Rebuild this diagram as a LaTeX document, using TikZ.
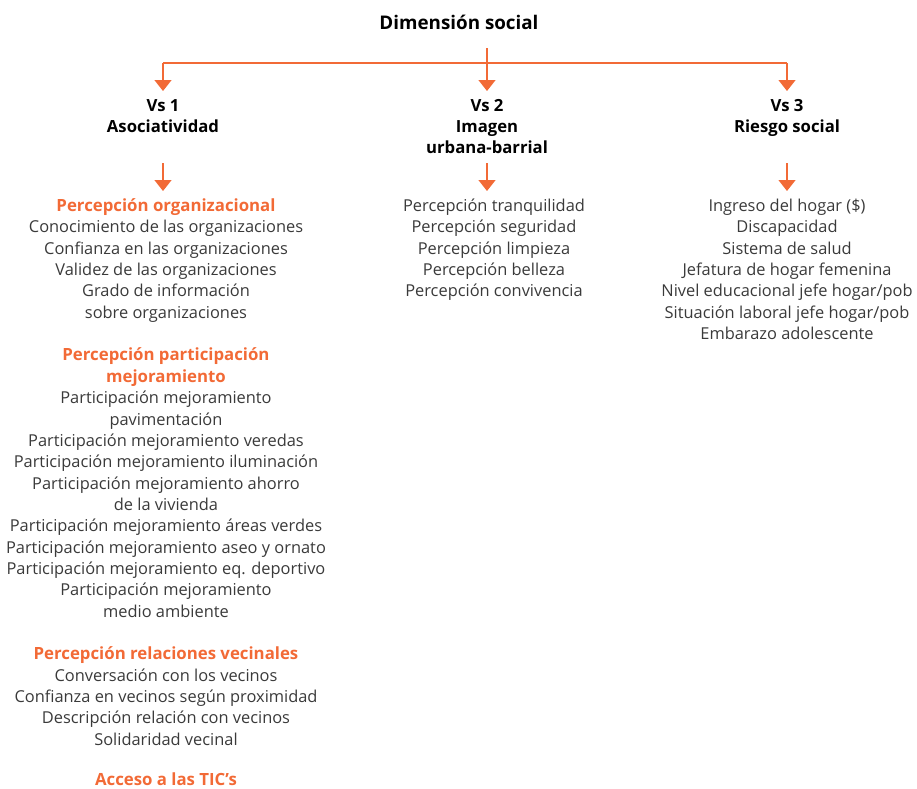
\documentclass[tikz,border=0pt]{standalone}
\usepackage{fontspec}
\setmainfont{Open Sans}
\usetikzlibrary{arrows.meta}
\definecolor{orng}{HTML}{F26A36}
\definecolor{txt}{HTML}{3A3A3A}
\begin{document}
\begin{tikzpicture}[x=1pt,y=-1pt,
  body/.style={anchor=base,inner sep=0pt,text=txt,font=\fontsize{16.4}{18}\selectfont},
  head/.style={anchor=base,inner sep=0pt,text=black,font=\bfseries\fontsize{16.7}{18}\selectfont},
  ohead/.style={anchor=base,inner sep=0pt,text=orng,font=\bfseries\fontsize{16.8}{18}\selectfont},
  conn/.style={draw=orng,line width=1.3pt},
  arr/.style={conn,-{Triangle[width=17pt,length=11pt]}}]
\useasboundingbox (0,0) rectangle (917,788);
% title
\node[head,font=\bfseries\fontsize{18.8}{20}\selectfont] (title) at (459,29) {Dimensión social};
\coordinate (tb) at (487,48);
\coordinate (hm) at (487,63);
\coordinate (hl) at (163,63);
\coordinate (hr) at (787,63);
% Vs labels
\node[head] (v1a) at (163,111) {Vs 1};
\node[head] (v1b) at (163,132.3) {Asociatividad};
\node[head] (v2a) at (487,111) {Vs 2};
\node[head] (v2b) at (487,132.3) {Imagen};
\node[head] (v2c) at (487,153.6) {urbana-barrial};
\node[head] (v3a) at (787,111) {Vs 3};
\node[head] (v3b) at (787,132.3) {Riesgo social};
\coordinate (t1) at (163,91);
\coordinate (t2) at (487,91);
\coordinate (t3) at (787,91);
\draw[conn] (hl) -- (hr);
\draw[arr] (tb) -- (t2);
\draw[arr] (hl) -- (t1);
\draw[arr] (hr) -- (t3);
% second arrows
\coordinate (s1) at (163,163);
\coordinate (s2) at (487,163);
\coordinate (s3) at (787,163);
\coordinate (e1) at (163,191);
\coordinate (e2) at (487,191);
\coordinate (e3) at (787,191);
\draw[arr] (s1) -- (e1);
\draw[arr] (s2) -- (e2);
\draw[arr] (s3) -- (e3);
% left column
\def\yo{211.5}
\def\dy{21.35}
\node[ohead] (h1) at (166,\yo) {Percepción organizacional};
\foreach \t [count=\i] in {Conocimiento de las organizaciones,Confianza en las organizaciones,Validez de las organizaciones,Grado de información,sobre organizaciones}
  \node[body] (a\i) at (166,\yo+\dy*\i) {\t};
\node[ohead] (h2a) at (166,\yo+\dy*7) {Percepción participación};
\node[ohead] (h2b) at (166,\yo+\dy*8) {mejoramiento};
\foreach \t [count=\i from 9] in {Participación mejoramiento,pavimentación,Participación mejoramiento veredas,Participación mejoramiento iluminación,Participación mejoramiento ahorro,de la vivienda,Participación mejoramiento áreas verdes,Participación mejoramiento aseo y ornato,Participación mejoramiento eq. deportivo,Participación mejoramiento,medio ambiente}
  \node[body] (b\i) at (166,\yo+\dy*\i) {\t};
\node[ohead] (h3) at (166,\yo+\dy*21) {Percepción relaciones vecinales};
\foreach \t [count=\i from 22] in {Conversación con los vecinos,Confianza en vecinos según proximidad,Descripción relación con vecinos,Solidaridad vecinal}
  \node[body] (c\i) at (166,\yo+\dy*\i) {\t};
\node[ohead] (h4) at (166,785) {Acceso a las TIC’s};
% middle column
\foreach \t [count=\i from 0] in {Percepción tranquilidad,Percepción seguridad,Percepción limpieza,Percepción belleza,Percepción convivencia}
  \node[body] (m\i) at (494,\yo+\dy*\i) {\t};
% right column
\foreach \t [count=\i from 0] in {Ingreso del hogar (\$),Discapacidad,Sistema de salud,Jefatura de hogar femenina,Nivel educacional jefe hogar/pob,Situación laboral jefe hogar/pob,Embarazo adolescente}
  \node[body] (r\i) at (787,\yo+\dy*\i) {\t};
\end{tikzpicture}
\end{document}
